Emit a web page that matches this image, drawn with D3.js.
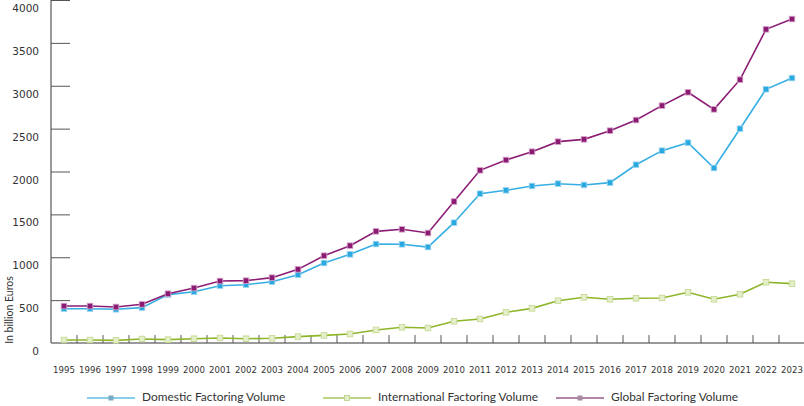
<!DOCTYPE html>
<html><head><meta charset="utf-8">
<script src="https://cdn.jsdelivr.net/npm/d3@7"></script>
<style>body{margin:0;background:#fff;}svg{display:block;}</style>
</head><body>
<svg id="c" width="804" height="406"></svg>
<script>
const years = ["1995","1996","1997","1998","1999","2000","2001","2002","2003","2004","2005","2006","2007","2008","2009","2010","2011","2012","2013","2014","2015","2016","2017","2018","2019","2020","2021","2022","2023"];
const domestic = [400,400,393,412,564,598,668,680,715,797,933,1034,1154,1151,1119,1403,1741,1781,1831,1858,1843,1870,2079,2243,2336,2041,2499,2959,3090];
const international = [35,35,31,47,39,50,58,50,55,74,89,105,152,183,175,253,280,358,404,493,533,510,521,525,591,510,568,708,692];
const global = [431,431,420,451,575,641,723,727,762,859,1018,1135,1302,1326,1283,1650,2014,2134,2231,2348,2375,2476,2600,2768,2924,2725,3071,3658,3778];
const yTicks = [0,500,1000,1500,2000,2500,3000,3500,4000];
const seriesNames = ["Domestic Factoring Volume","International Factoring Volume","Global Factoring Volume"];

const svg = d3.select("#c");
const x = d3.scaleBand().domain(years).range([51, 805]).padding(0);
const y = d3.scaleLinear().domain([0, 4000]).range([343, 0]);
const cx = d => x(d) + x.bandwidth()/2;

// y axis
svg.append("line").attr("x1",51).attr("x2",51).attr("y1",0).attr("y2",343)
  .attr("stroke","#555").attr("stroke-width",1.2);
svg.selectAll(".yt").data(yTicks.filter(v=>v>0)).enter().append("line")
  .attr("x1",51).attr("x2",70).attr("y1",d=>y(d)+0.5).attr("y2",d=>y(d)+0.5)
  .attr("stroke","#555").attr("stroke-width",1);
svg.selectAll(".yl").data(yTicks).enter().append("text")
  .attr("x",39).attr("y",d=>y(d)+9).attr("text-anchor","end").attr("dominant-baseline","middle")
  .attr("font-family","DejaVu Sans").attr("font-size","10.5px").attr("fill","#333").text(d=>d);

// x axis
svg.append("line").attr("x1",51).attr("x2",804).attr("y1",343).attr("y2",343)
  .attr("stroke","#777").attr("stroke-width",1.6);
svg.selectAll(".xt").data(years).enter().append("line")
  .attr("x1",d=>x(d)+x.bandwidth()).attr("x2",d=>x(d)+x.bandwidth())
  .attr("y1",343).attr("y2",335).attr("stroke","#555").attr("stroke-width",1);
svg.selectAll(".xl").data(years).enter().append("text")
  .attr("x",d=>cx(d)).attr("y",370).attr("text-anchor","middle").attr("dominant-baseline","middle")
  .attr("font-family","DejaVu Sans").attr("font-size","8.6px").attr("fill","#333").text(d=>d);

// y title
svg.append("text").attr("transform","translate(10,310) rotate(-90)").attr("text-anchor","middle")
  .attr("dominant-baseline","middle").attr("font-family","Lato").attr("font-size","10.5px").attr("fill","#333")
  .text("In billion Euros");

const styles = [
  {data: domestic, line:"#36aee3", fill:"#2aa8e0", stroke:"#9fd6f0"},
  {data: international, line:"#8db52a", fill:"#e4eec8", stroke:"#c2d78e"},
  {data: global, line:"#8b1d74", fill:"#8a1a72", stroke:"#d7a6cc"}
];
const order = [1,0,2];
order.forEach(k => {
  const s = styles[k];
  const pts = years.map((yr,i)=>[cx(yr), y(s.data[i])]);
  svg.append("path").attr("d", d3.line()(pts)).attr("fill","none")
    .attr("stroke", s.line).attr("stroke-width",1.6);
  svg.selectAll(".m"+k).data(pts).enter().append("rect")
    .attr("x",d=>d[0]-2.8).attr("y",d=>d[1]-2.8).attr("width",5.6).attr("height",5.6)
    .attr("fill",s.fill).attr("stroke",s.stroke).attr("stroke-width",0.8);
});

// legend
const legX = [87, 323, 556];
const legStyle = [
  {line:"#5fbde6", mk:"#7aa9c2"},
  {line:"#a7c65a", mk:"#e4eec8", mkS:"#b6cf80"},
  {line:"#9a5b8e", mk:"#a98aa3"}
];
seriesNames.forEach((name,i) => {
  const g = svg.append("g");
  g.append("line").attr("x1",legX[i]).attr("x2",legX[i]+48).attr("y1",398).attr("y2",398)
    .attr("stroke",legStyle[i].line).attr("stroke-width",1.6);
  g.append("rect").attr("x",legX[i]+24-2.5).attr("y",398-2.5).attr("width",5).attr("height",5)
    .attr("fill",legStyle[i].mk).attr("stroke",legStyle[i].mkS||"none").attr("stroke-width",0.8);
  g.append("text").attr("x",legX[i]+55).attr("y",398).attr("dominant-baseline","middle")
    .attr("font-family","Lato").attr("font-size","11.9px").attr("fill","#333").text(name);
});
</script>
</body></html>
